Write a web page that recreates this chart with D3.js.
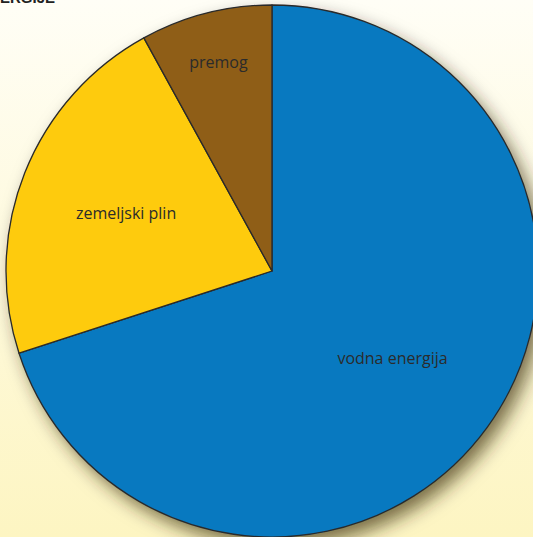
<!DOCTYPE html>
<html lang="sl">
<head>
<meta charset="utf-8">
<title>pie</title>
<style>
  html, body { margin: 0; padding: 0; overflow: hidden; }
  svg { display: block; }
</style>
</head>
<body>
<svg width="533" height="537"></svg>
<script src="https://d3js.org/d3.v7.min.js"></script>
<script>
// data (percent)
var categories = ["vodna energija", "zemeljski plin", "premog"];
var values = [70, 22, 8];
var colors = ["#0879c0", "#fecb0d", "#8f5e17"];

var svg = d3.select("svg"),
    width = +svg.attr("width"),
    height = +svg.attr("height"),
    cx = 272, cy = 271, radius = 266;

var defs = svg.append("defs");
var bg = defs.append("linearGradient").attr("id", "bg")
    .attr("x1", 0).attr("y1", 0).attr("x2", 0).attr("y2", 1);
bg.append("stop").attr("offset", "0%").attr("stop-color", "#fffef6");
bg.append("stop").attr("offset", "100%").attr("stop-color", "#fdf5c2");

var shadow = defs.append("filter").attr("id", "shadow")
    .attr("x", "-20%").attr("y", "-20%").attr("width", "140%").attr("height", "140%");
shadow.append("feDropShadow")
    .attr("dx", 7).attr("dy", 9).attr("stdDeviation", 9)
    .attr("flood-color", "#2e2800").attr("flood-opacity", 0.65);

svg.append("rect").attr("width", width).attr("height", height).attr("fill", "url(#bg)");

// title, cut off at the top edge like in the source
svg.append("text")
    .attr("x", 55).attr("y", 3)
    .attr("text-anchor", "end")
    .style("font", "bold 15px 'Liberation Sans', Arial, sans-serif")
    .attr("fill", "#222")
    .text("ENERGIJE");

// clockwise from 12 o'clock: vodna energija, zemeljski plin, premog
var pie = d3.pie().sort(null);
var arcs = pie(values);

var arc = d3.arc().innerRadius(0).outerRadius(radius);

var g = svg.append("g").attr("transform", "translate(" + cx + "," + cy + ")");

g.append("circle").attr("r", radius).attr("fill", "#0879c0").attr("filter", "url(#shadow)");

g.selectAll("path.slice")
  .data(arcs)
  .enter().append("path")
    .attr("class", "slice")
    .attr("d", arc)
    .attr("fill", function(d, i) { return colors[i]; })
    .attr("stroke", "#2a2a2a")
    .attr("stroke-width", 1.3)
    .attr("stroke-linejoin", "round");

// label distance from the centre, as a share of the radius
var labelR = [0.56, 0.59, 0.81];
g.selectAll("text.lbl")
  .data(arcs)
  .enter().append("text")
    .attr("class", "lbl")
    .attr("transform", function(d, i) {
      var a = (d.startAngle + d.endAngle) / 2, r = radius * labelR[i];
      return "translate(" + (Math.sin(a) * r) + "," + (-Math.cos(a) * r) + ")";
    })
    .attr("text-anchor", "middle")
    .attr("dy", "0.35em")
    .style("font", "16px 'Open Sans', 'Noto Sans', sans-serif")
    .attr("fill", "#2b2b2b")
    .text(function(d, i) { return categories[i]; });
</script>
</body>
</html>
